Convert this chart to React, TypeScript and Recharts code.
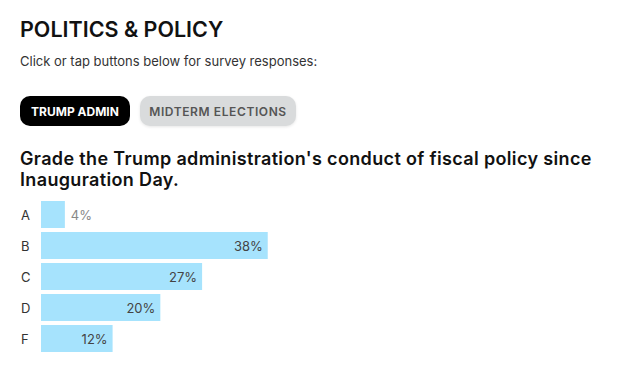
import React from "react";
import { BarChart, Bar, XAxis, YAxis, LabelList } from "recharts";

const grades = ["A", "B", "C", "D", "F"];
const shares = [4, 38, 27, 20, 12];

const data = grades.map((g, i) => ({ grade: g, share: shares[i] }));

const FONT = "Inter, 'Noto Sans', sans-serif";

const GradeTick = (props: any) => {
  const { y, payload } = props;
  return (
    <text x={21} y={y} dy={5} textAnchor="start" fontSize={13} fill="#333" fontFamily={FONT}>
      {payload.value}
    </text>
  );
};

const ValueLabel = (props: any) => {
  const { x, y, width, height, value } = props;
  const cy = y + height / 2 + 5;
  if (value < 8) {
    return (
      <text x={x + width + 6} y={cy} fontSize={13} fill="#888" fontFamily={FONT} textAnchor="start">
        {value}%
      </text>
    );
  }
  return (
    <text x={x + width - 5} y={cy} fontSize={13} fill="#444" fontFamily={FONT} textAnchor="end">
      {value}%
    </text>
  );
};

export default function App() {
  return (
    <div style={{ position: "absolute", left: 0, top: 0, width: 633, height: 372, background: "#fff", fontFamily: FONT }}>
      <div style={{ position: "absolute", left: 20, top: 16, fontSize: 21.5, fontWeight: 600, color: "#111", letterSpacing: 0 }}>
        POLITICS &amp; POLICY
      </div>
      <div style={{ position: "absolute", left: 20, top: 53, fontSize: 13, color: "#333" }}>
        Click or tap buttons below for survey responses:
      </div>
      <div style={{ position: "absolute", left: 20, top: 96, width: 110, height: 30, borderRadius: 10, background: "#000", color: "#fff", fontSize: 12, fontWeight: 700, display: "flex", alignItems: "center", justifyContent: "center" }}>
        TRUMP ADMIN
      </div>
      <div style={{ position: "absolute", left: 140, top: 96, width: 156, height: 30, borderRadius: 10, background: "#d9dbdc", color: "#555", fontSize: 12, fontWeight: 600, letterSpacing: 0.6, display: "flex", alignItems: "center", justifyContent: "center", boxShadow: "0 1px 3px rgba(0,0,0,0.1)" }}>
        MIDTERM ELECTIONS
      </div>
      <div style={{ position: "absolute", left: 20, top: 149, width: 610, fontSize: 18, fontWeight: 600, color: "#111", lineHeight: "20.5px", letterSpacing: 0.35 }}>
        Grade the Trump administration's conduct of fiscal policy since Inauguration Day.
      </div>
      <div style={{ position: "absolute", left: 0, top: 199 }}>
        <BarChart
          width={578}
          height={155}
          data={data}
          layout="vertical"
          margin={{ top: 0, right: 0, bottom: 0, left: 0 }}
          barCategoryGap={2}
        >
          <XAxis type="number" domain={[0, 90]} hide />
          <YAxis type="category" dataKey="grade" width={41} tickLine={false} axisLine={false} tick={<GradeTick />} />
          <Bar dataKey="share" fill="#a6e3fd" isAnimationActive={false}>
            <LabelList dataKey="share" content={<ValueLabel />} />
          </Bar>
        </BarChart>
      </div>
    </div>
  );
}
